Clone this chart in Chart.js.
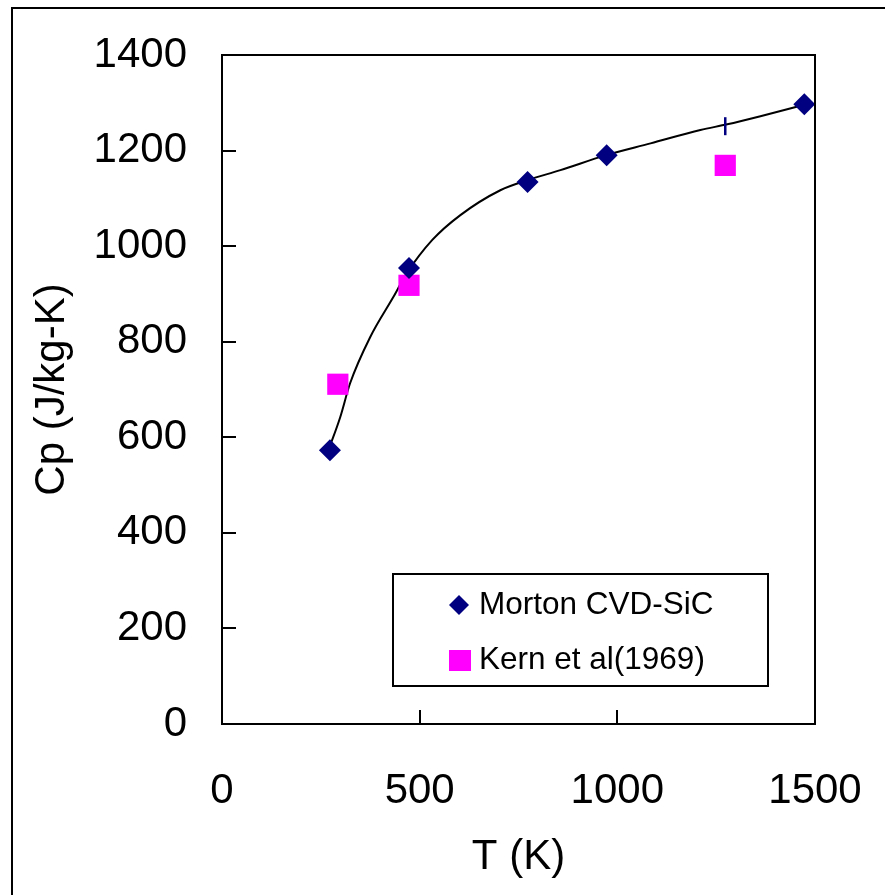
<!DOCTYPE html>
<html>
<head>
<meta charset="utf-8">
<title>Cp vs T</title>
<script src="https://cdn.jsdelivr.net/npm/chart.js@4.4.1/dist/chart.umd.min.js"></script>
<style>
  body { margin: 0; background: #fff; }
  #wrap { width: 885px; height: 895px; }
</style>
</head>
<body>
<div id="wrap"><canvas id="cpChart" width="885" height="895"></canvas></div>
<script>
// Datos
const mortonT = [273, 473, 773, 973, 1273, 1473];
const mortonCp = [573, 954, 1134, 1190, 1251, 1297];
const kernT = [293, 473, 1273];
const kernCp = [711, 918, 1169];
const fitT = [271, 299, 324, 375, 433, 468, 532, 603, 704, 772, 856, 970, 1084, 1210, 1278, 1362, 1478];
const fitCp = [577, 642, 713, 810, 893, 944, 1013, 1065, 1117, 1138, 1159, 1190, 1215, 1243, 1255, 1272, 1297];
const xTicks = [0, 500, 1000, 1500];
const yTicks = [0, 200, 400, 600, 800, 1000, 1200, 1400];
const labels = ['Morton CVD-SiC', 'Kern et al(1969)'];

const FONT = '"Liberation Sans", Arial, sans-serif';
const NAVY = '#000080';
const MAGENTA = '#FF00FF';

const toPoints = (xs, ys) => xs.map((x, i) => ({ x: x, y: ys[i] }));

// borde exterior, caja del grafico, marcas interiores y leyenda
const framePlugin = {
    id: 'frame',
    afterDraw(chart) {
        const ctx = chart.ctx;
        const a = chart.chartArea;
        const xs = chart.scales.x;
        const ys = chart.scales.y;
        ctx.save();
        ctx.strokeStyle = '#000';
        ctx.lineWidth = 2;
        ctx.strokeRect(12, 8, 2000, 2000);
        ctx.strokeRect(a.left, a.top, a.right - a.left, a.bottom - a.top);

        ctx.beginPath();
        yTicks.forEach(v => {
            const py = Math.round(ys.getPixelForValue(v));
            ctx.moveTo(a.left, py);
            ctx.lineTo(a.left + 14, py);
        });
        xTicks.forEach(v => {
            const px = Math.round(xs.getPixelForValue(v));
            ctx.moveTo(px, a.bottom);
            ctx.lineTo(px, a.bottom - 14);
        });
        ctx.stroke();

        // leyenda
        const bx = a.left + 171, by = a.top + 519, bw = 375, bh = 112;
        ctx.fillStyle = '#fff';
        ctx.fillRect(bx, by, bw, bh);
        ctx.strokeRect(bx, by, bw, bh);

        const r1 = by + 31, r2 = by + 86;
        ctx.fillStyle = NAVY;
        ctx.beginPath();
        ctx.moveTo(bx + 66, r1 - 10);
        ctx.lineTo(bx + 76, r1);
        ctx.lineTo(bx + 66, r1 + 10);
        ctx.lineTo(bx + 56, r1);
        ctx.closePath();
        ctx.fill();

        ctx.fillStyle = MAGENTA;
        ctx.fillRect(bx + 56, r2 - 10, 22, 21);

        ctx.fillStyle = '#000';
        ctx.font = '31.5px ' + FONT;
        ctx.textBaseline = 'middle';
        ctx.textAlign = 'left';
        ctx.fillText(labels[0], bx + 86, r1);
        ctx.fillText(labels[1], bx + 86, r2);
        ctx.restore();
    }
};

const ctx = document.getElementById('cpChart').getContext('2d');
const chart = new Chart(ctx, {
    type: 'scatter',
    data: {
        datasets: [
            {
                label: 'fit',
                data: toPoints(fitT, fitCp),
                showLine: true,
                borderColor: '#000',
                borderWidth: 2,
                pointRadius: 0,
                cubicInterpolationMode: 'monotone',
                order: 3
            },
            {
                label: labels[1],
                data: toPoints(kernT, kernCp),
                pointStyle: 'rect',
                pointRadius: 15,
                backgroundColor: MAGENTA,
                borderColor: MAGENTA,
                borderWidth: 0,
                order: 2
            },
            {
                label: labels[0],
                data: toPoints(mortonT, mortonCp),
                pointStyle: ['rectRot', 'rectRot', 'rectRot', 'rectRot', 'line', 'rectRot'],
                rotation: [0, 0, 0, 0, 90, 0],
                pointRadius: [11, 11, 11, 11, 9, 11],
                backgroundColor: NAVY,
                borderColor: NAVY,
                borderWidth: [0, 0, 0, 0, 2.5, 0],
                order: 1
            }
        ]
    },
    options: {
        responsive: false,
        animation: false,
        layout: { padding: { left: 0, top: 55, right: 70, bottom: 0 } },
        plugins: {
            legend: { display: false },
            tooltip: { enabled: false }
        },
        scales: {
            x: {
                type: 'linear',
                min: 0,
                max: 1500,
                afterBuildTicks: (s) => { s.ticks = xTicks.map(v => ({ value: v })); },
                afterFit: (s) => { s.height = 171; s.paddingLeft = 0; s.paddingRight = 0; },
                grid: { display: false, drawTicks: false },
                border: { display: false },
                ticks: {
                    color: '#000',
                    font: { family: FONT, size: 42 },
                    padding: 42,
                    maxRotation: 0,
                    callback: (v) => String(v)
                },
                title: {
                    display: true,
                    text: 'T (K)',
                    color: '#000',
                    font: { family: FONT, size: 42 },
                    padding: { top: 0, bottom: 12 }
                }
            },
            y: {
                type: 'linear',
                min: 0,
                max: 1400,
                afterBuildTicks: (s) => { s.ticks = yTicks.map(v => ({ value: v })); },
                afterFit: (s) => { s.width = 222; s.paddingTop = 0; s.paddingBottom = 0; },
                grid: { display: false, drawTicks: false },
                border: { display: false },
                ticks: {
                    color: '#000',
                    font: { family: FONT, size: 42 },
                    padding: 35,
                    callback: (v) => String(v)
                },
                title: {
                    display: true,
                    text: 'Cp (J/kg-K)',
                    color: '#000',
                    font: { family: FONT, size: 42 },
                    padding: { top: 27, bottom: 0 }
                }
            }
        }
    },
    plugins: [framePlugin]
});
</script>
</body>
</html>
